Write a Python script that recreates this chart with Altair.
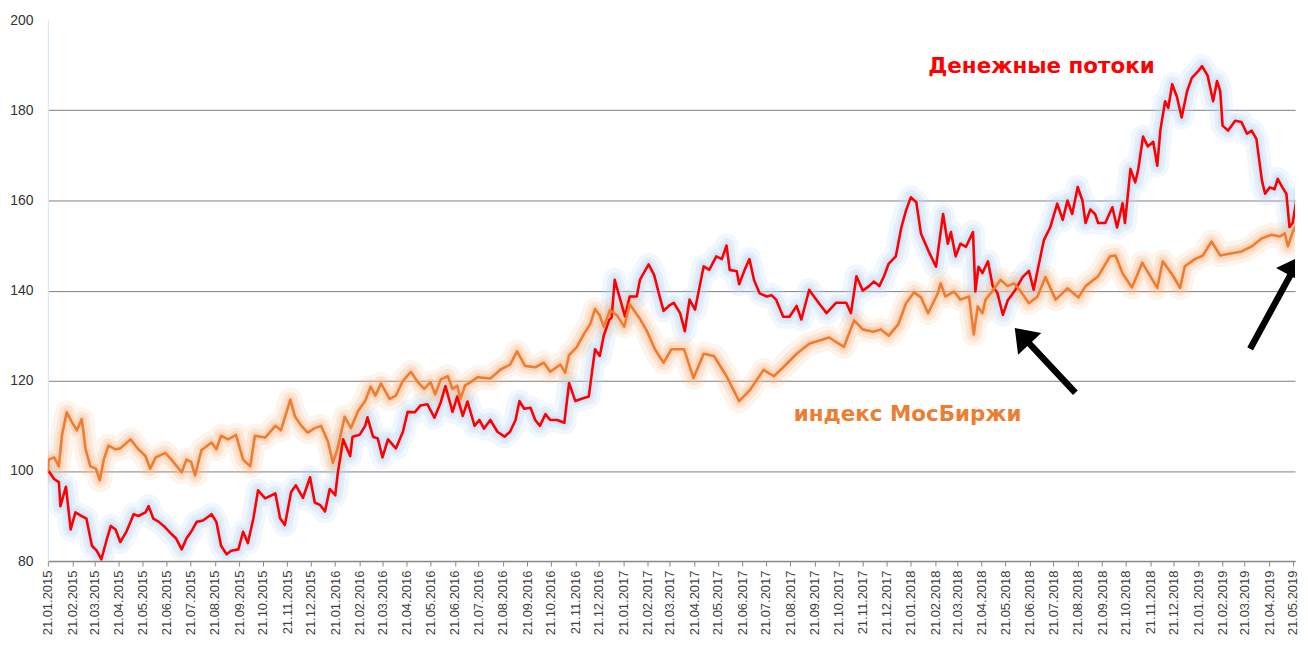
import altair as alt
import pandas as pd

START = pd.Timestamp("2015-01-21")

# days after 21.01.2015, values of "Денежные потоки" (red)
red_days = [0, 1, 8, 14, 16, 23, 29, 35, 43, 49, 56, 62, 68, 75, 80, 86, 92, 100, 109, 115,
            124, 128, 134, 141, 149, 157, 163, 170, 176, 182, 189, 197, 208, 214, 220, 227, 233, 242, 248, 254,
            261, 267, 276, 289, 295, 301, 309, 315, 324, 333, 339, 346, 352, 358, 365, 368, 375, 384, 387, 396,
            403, 406, 413, 419, 425, 432, 442, 451, 457, 466, 473, 482, 491, 499, 505, 514, 520, 527, 533, 542,
            548, 554, 562, 571, 580, 587, 594, 599, 605, 613, 619, 625, 632, 638, 647, 656, 662, 670, 678, 687,
            691, 695, 701, 706, 713, 716, 720, 727, 733, 739, 748, 752, 763, 770, 776, 782, 790, 795, 803, 809,
            815, 822, 827, 833, 840, 849, 856, 862, 866, 875, 878, 885, 891, 897, 904, 913, 919, 925, 934, 942,
            951, 957, 967, 973, 982, 989, 1001, 1014, 1020, 1027, 1035, 1043, 1049, 1056, 1062, 1068, 1077, 1084, 1090, 1096,
            1103, 1109, 1119, 1128, 1137, 1143, 1147, 1153, 1159, 1166, 1175, 1178, 1182, 1187, 1194, 1200, 1206, 1213, 1219, 1229,
            1238, 1246, 1252, 1258, 1265, 1273, 1282, 1289, 1295, 1301, 1308, 1314, 1318, 1324, 1330, 1334, 1343, 1352, 1358, 1365,
            1368, 1375, 1381, 1385, 1391, 1397, 1404, 1409, 1413, 1419, 1423, 1428, 1434, 1440, 1447, 1453, 1461, 1466, 1473, 1480,
            1485, 1489, 1492, 1499, 1508, 1516, 1523, 1529, 1535, 1542, 1546, 1552, 1558, 1562, 1568, 1573, 1577, 1581, 1587, 1594]
red_vals = [100, 100, 98.2, 97.5, 92.2, 96.5, 87, 90.8, 90, 89.4, 83.4, 82.3, 80.4, 84.9, 87.8, 87, 84.2, 86.6, 90.4, 90,
            90.8, 92.2, 89.4, 88.7, 87.5, 86, 85, 82.6, 85, 86.5, 88.7, 89, 90.4, 88.7, 83.4, 81.5, 82.3, 82.6, 86.5, 84,
            89.4, 95.7, 93.9, 95, 89.5, 88, 95.3, 96.8, 94, 98.6, 93, 92.4, 91, 96, 94.6, 99.2, 107, 103.3, 107.6, 108,
            110, 111.9, 107.6, 107.2, 103, 107, 105, 108.7, 113.1, 113, 114.5, 114.8, 111.8, 115.2, 118.8, 113.1, 116.5, 112.2, 115.4, 110,
            111.3, 109.4, 111.3, 108.7, 107.6, 108.7, 111.3, 115.5, 113.8, 114, 111.3, 110, 112.6, 111.3, 111.3, 110.7, 119.5, 115.5, 116, 116.5,
            121.8, 127, 125.5, 130, 133.5, 134, 142.4, 138, 134.3, 138.7, 138.7, 142.4, 145.8, 143.5, 139.4, 135.5, 136.8, 137.3, 135, 131,
            138, 135.8, 140.2, 145.4, 144.6, 147.6, 147, 150, 144.6, 144.3, 141.4, 144.6, 147, 142.3, 139.4, 138.7, 139, 138, 134.2, 134.2,
            136.6, 133.6, 140.2, 138.7, 136.6, 135, 137.3, 137.3, 135, 143.2, 140, 141, 142, 141, 143.2, 146, 147.6, 154, 157.8, 160.7,
            159.6, 152.6, 148.6, 145.3, 157, 150.4, 153, 147.6, 150.4, 149.7, 153, 139.8, 145.3, 143.9, 146.5, 141, 139.5, 134.6, 137.8, 140.2,
            143, 144.4, 140.2, 145.3, 151.2, 154, 159.3, 155.7, 160, 157, 163, 160, 155, 158, 157, 155, 155, 158.5, 154, 159.4,
            155, 167, 164, 167, 174.2, 172, 173, 167.7, 175.6, 182, 180.5, 185.8, 183, 178.4, 184.3, 187.2, 188.7, 189.8, 187.7, 182,
            186.5, 184.3, 176.6, 175.5, 177.7, 177.4, 174.8, 175.5, 173.6, 164.4, 161.5, 162.9, 162.5, 164.8, 162.9, 161.5, 154.1, 155, 161.5, 159.5]

# days after 21.01.2015, values of "индекс МосБиржи" (orange)
orange_days = [0, 1, 8, 14, 18, 24, 30, 37, 43, 48, 54, 61, 66, 71, 77, 86, 92, 105, 115, 124,
               130, 137, 149, 157, 170, 176, 182, 187, 195, 208, 214, 220, 229, 239, 248, 257, 263, 276, 289, 296,
               308, 314, 322, 330, 339, 347, 356, 362, 368, 377, 385, 394, 403, 410, 416, 423, 434, 442, 451, 461,
               470, 478, 486, 492, 499, 508, 514, 520, 524, 530, 537, 546, 562, 575, 587, 596, 606, 619, 630, 638,
               651, 657, 662, 672, 681, 689, 695, 701, 706, 714, 723, 732, 739, 751, 761, 771, 782, 792, 808, 820,
               833, 846, 862, 878, 891, 909, 922, 934, 951, 967, 992, 1011, 1024, 1035, 1048, 1058, 1068, 1080, 1090, 1100,
               1109, 1118, 1130, 1134, 1140, 1151, 1159, 1170, 1176, 1181, 1187, 1191, 1200, 1210, 1219, 1227, 1235, 1246, 1257, 1267,
               1280, 1295, 1309, 1318, 1334, 1349, 1356, 1365, 1377, 1390, 1409, 1416, 1429, 1438, 1444, 1457, 1467, 1478, 1489, 1504,
               1516, 1529, 1542, 1554, 1565, 1571, 1575, 1581, 1587, 1594]
orange_vals = [100, 102.5, 103, 101, 108, 113, 111, 109, 111.5, 104.8, 101, 100.5, 97.9, 102.5, 105.6, 104.8, 105, 107, 104.8, 103.3,
               100.5, 103, 104, 102.5, 99.7, 102.5, 102, 99, 104.6, 106.3, 104.8, 107.8, 107, 108, 102.5, 101, 107.8, 107.4, 110, 109,
               115.8, 112, 110, 108.5, 109.5, 110, 106.4, 101.8, 105, 112, 109.5, 113.3, 115.5, 118.7, 116.7, 119.4, 116, 116.7, 120, 122,
               119.7, 118.2, 119.7, 117, 120.3, 121, 118.2, 118.9, 116, 119, 119.7, 120.8, 120.5, 122.5, 123.6, 126.5, 123.3, 123, 124, 122,
               123.6, 121.8, 125.7, 127.5, 130.4, 132.6, 135.9, 134.5, 132, 135.7, 134.5, 132, 137, 134, 131, 127, 124, 127, 127, 120.6,
               126, 125.5, 121, 115.5, 117.8, 122.4, 121, 123, 126, 128.2, 129.6, 127.5, 133.4, 131.4, 130.9, 131.4, 130, 132.5, 137.2, 139.6,
               138.5, 135, 139.3, 141.6, 138.7, 139.8, 138, 138.7, 130.3, 136.5, 135, 138, 140, 142.4, 141, 141.6, 140, 137.2, 138.7, 143,
               138, 140.5, 138.5, 141, 143.2, 147.6, 147.8, 143.8, 140.7, 146.2, 140.6, 146.5, 143.3, 140.6, 145.4, 147, 147.8, 150.9, 147.8, 148.3,
               148.7, 149.8, 151.6, 152.4, 152, 152.7, 149.8, 153, 155, 154.4]

series_names = ["Денежные потоки", "индекс МосБиржи"]
y_ticks = [80, 100, 120, 140, 160, 180, 200]

# annotation labels: day offset, value
label_days = [1262, 1092]
label_vals = [188.3, 111.0]
label_colors = ["#ff0000", "#ed7d31"]

# arrows: tail, shaft end, tip (day offsets / values), direction
arrow_tail_days = [1305, 1527]
arrow_tail_vals = [117.35, 127.07]
arrow_end_days = [1241, 1582]
arrow_end_vals = [129.3, 144.7]
arrow_tip_days = [1228, 1591]
arrow_tip_vals = [131.7, 147.6]
arrow_angles = [316.8, 28.7]


def to_dates(days):
    return [START + pd.Timedelta(days=d) for d in days]


red_df = pd.DataFrame({"date": to_dates(red_days), "value": red_vals})
orange_df = pd.DataFrame({"date": to_dates(orange_days), "value": orange_vals})
label_df = pd.DataFrame({"date": to_dates(label_days), "value": label_vals,
                         "label": series_names, "color": label_colors})
arrow_df = pd.DataFrame({
    "date": to_dates(arrow_tail_days), "value": arrow_tail_vals,
    "date2": to_dates(arrow_end_days), "value2": arrow_end_vals,
    "tdate": to_dates(arrow_tip_days), "tvalue": arrow_tip_vals,
    "angle": arrow_angles,
})

tick_dates = [alt.DateTime(year=y, month=m, date=21)
              for y in range(2015, 2020) for m in range(1, 13)
              if not (y == 2019 and m > 5)]

x_scale = alt.Scale(domain=[alt.DateTime(year=2015, month=1, date=21),
                            alt.DateTime(year=2019, month=5, date=24)])
y_scale = alt.Scale(domain=[80, 200], nice=False, zero=False)

x_axis = alt.Axis(values=tick_dates, format="%d.%m.%Y", labelAngle=270, title=None,
                  labelFont="Liberation Sans", labelFontSize=13, labelColor="#404040",
                  labelOverlap=False, labelPadding=4, tickSize=5, tickColor="#8a8a8a",
                  domainColor="#8a8a8a", domainWidth=1.5, grid=False)
y_axis = alt.Axis(values=y_ticks, title=None, labelFont="Liberation Sans", labelFontSize=14,
                  labelColor="#333333", labelPadding=15, ticks=False, domain=True,
                  domainColor="#d4e5f6", grid=True, gridColor="#7f7f7f", gridWidth=1,
                  gridOpacity={"condition": {"test": "datum.value >= 200", "value": 0}, "value": 1},
                  minExtent=40, maxExtent=40)

x_enc = alt.X("date:T", scale=x_scale, axis=x_axis)
y_enc = alt.Y("value:Q", scale=y_scale, axis=y_axis)


def line(df, color, width, opacity=1.0):
    return alt.Chart(df).mark_line(color=color, strokeWidth=width, opacity=opacity,
                                   strokeJoin="round", strokeCap="round", clip=True
                                   ).encode(x=x_enc, y=y_enc)


layers = [
    line(red_df, "#b9d8f5", 24, 0.2),
    line(red_df, "#b9d8f5", 15, 0.28),
    line(red_df, "#b9d8f5", 8, 0.35),
    line(orange_df, "#f5b889", 24, 0.16),
    line(orange_df, "#f5b889", 15, 0.24),
    line(orange_df, "#f5b889", 8, 0.32),
    line(red_df, "#ff0000", 2.6),
    line(orange_df, "#ed7d31", 2.6),
    alt.Chart(label_df).mark_text(font="DejaVu Sans", fontWeight="bold", fontSize=21.5,
                                  align="center", baseline="alphabetic").encode(
        x=x_enc, y=y_enc, text="label:N", color=alt.Color("color:N", scale=None)),
    alt.Chart(arrow_df).mark_rule(color="black", strokeWidth=6.5, clip=True).encode(
        x=x_enc, y=y_enc, x2="date2:T", y2="value2:Q"),
    alt.Chart(arrow_df).mark_point(shape="M0,0L-1.2,1.65L1.2,1.65Z", filled=True, color="black",
                                   opacity=1, size=708, clip=True).encode(
        x=alt.X("tdate:T", scale=x_scale, axis=x_axis),
        y=alt.Y("tvalue:Q", scale=y_scale, axis=y_axis),
        angle=alt.Angle("angle:Q", scale=None)),
]

chart = alt.layer(*layers).properties(
    width=1252, height=543,
    padding={"left": 0, "top": 4, "right": 0, "bottom": 0},
    background="white",
).configure_view(strokeWidth=0)

chart.save("out.html", embed_options={"renderer": "svg", "actions": False})
